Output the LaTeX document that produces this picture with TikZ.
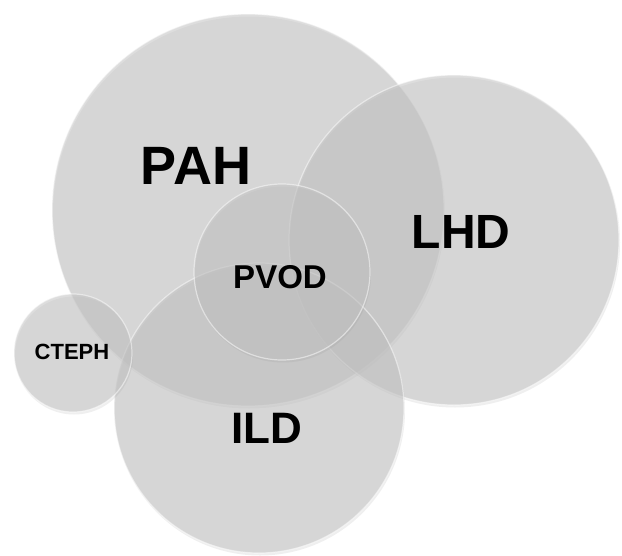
\documentclass[tikz,border=0pt]{standalone}
\usepackage{fontspec}
\setmainfont{Liberation Sans}
\usetikzlibrary{shadows}
\begin{document}
\begin{tikzpicture}[x=1pt,y=-1pt,
  bubble/.style={circle, inner sep=0pt, fill=black!23, fill opacity=0.56,
    draw=white, draw opacity=0.5, line width=1.2pt,
    drop shadow={opacity=0.12, shadow xshift=1pt, shadow yshift=-2.5pt}},
  lbl/.style={font=\bfseries, text=black, inner sep=0pt}]
\useasboundingbox (0,0) rectangle (622,555);
\fill[white] (0,0) rectangle (622,555);
\node[bubble, minimum size=392pt] (pah) at (248,210) {};
\node[bubble, minimum size=330pt] (lhd) at (454,240) {};
\node[bubble, minimum size=290pt] (ild) at (259,408) {};
\node[bubble, minimum size=176pt] (pvod) at (282,272) {};
\node[bubble, minimum size=118pt] (cteph) at (73,353) {};
\node[lbl, font=\fontsize{54}{58}\selectfont\bfseries] (pahl) at (196,166) {PAH};
\node[lbl, font=\fontsize{48}{52}\selectfont\bfseries] (lhdl) at (461,232) {LHD};
\node[lbl, font=\fontsize{44}{48}\selectfont\bfseries] (ildl) at (267,428) {ILD};
\node[lbl, font=\fontsize{33}{36}\selectfont\bfseries] (pvodl) at (280,277) {PVOD};
\node[lbl, font=\fontsize{22}{26}\selectfont\bfseries] (ctephl) at (72,352) {CTEPH};
\end{tikzpicture}
\end{document}
